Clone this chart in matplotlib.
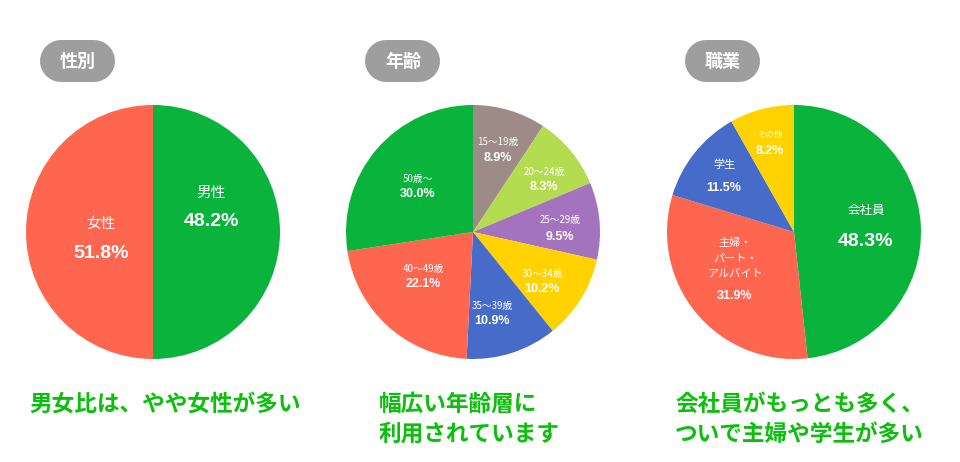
import matplotlib
matplotlib.use('Agg')
import matplotlib.pyplot as plt

HEIGHT = 462
JP = ['Noto Sans CJK JP', 'DejaVu Sans']
NUM = ['Liberation Sans', 'DejaVu Sans']

# data: printed percentages, and the slice sizes as they are actually drawn
gender_labels = ['男性', '女性']
gender_values = [48.2, 51.8]
gender_drawn = [50.0, 50.0]
age_labels = ['15～19歳', '20～24歳', '25～29歳', '30～34歳', '35～39歳', '40～49歳', '50歳～']
age_values = [8.9, 8.3, 9.5, 10.2, 10.9, 22.1, 30.0]
age_drawn = [9.3, 9.4, 9.8, 10.7, 11.6, 21.8, 27.4]
job_labels = ['会社員', '主婦・\nパート・\nアルバイト', '学生', 'その他']
job_values = [48.3, 31.9, 11.5, 8.2]
job_drawn = [48.3, 31.4, 12.1, 8.2]

titles = ['性別', '年齢', '職業']
comments = [['男女比は、やや女性が多い'],
            ['幅広い年齢層に', '利用されています'],
            ['会社員がもっとも多く、', 'ついで主婦や学生が多い']]

# colours
GREEN = '#0ab43c'
TOMATO = '#ff6650'
BLUE = '#476bc9'
YELLOW = '#ffd200'
PURPLE = '#a473be'
LIME = '#b3dc50'
TAUPE = '#9d8b87'
gender_colors = [GREEN, TOMATO]
age_colors = [TAUPE, LIME, PURPLE, YELLOW, BLUE, TOMATO, GREEN]
job_colors = [GREEN, TOMATO, BLUE, YELLOW]

# layout in pixels, y from the top: (x, name y, percent y, name size, percent size)
gender_pos = [(211, 193, 222, 10.5, 14), (101, 224, 253, 10.5, 14)]
age_pos = [(498, 142, 158, 7, 9), (544, 172, 187, 7, 9), (560, 220, 237, 7, 9),
           (542, 274, 289, 7, 9), (492, 306, 321, 7, 9), (423, 269, 284, 7, 9),
           (418, 179, 194, 7, 9)]
job_pos = [(866, 210, 241, 9, 14), (735, 258, 296, 8, 9),
           (724, 165, 188, 8, 9), (770, 134, 151, 6, 9)]

pies = [(153, gender_drawn, gender_values, gender_labels, gender_colors, gender_pos),
        (473, age_drawn, age_values, age_labels, age_colors, age_pos),
        (794, job_drawn, job_values, job_labels, job_colors, job_pos)]
pill_left = [40, 365, 685]
comment_left = [29, 379, 675]


def y_(py):
    return HEIGHT - py


fig = plt.figure(figsize=(9.6, 4.62), dpi=100)
ax = fig.add_axes([0, 0, 1, 1])

for cx, drawn, values, labels, colors, pos in pies:
    ax.pie(drawn, colors=colors, startangle=90, counterclock=False,
           center=(cx, y_(232)), radius=127)
    for value, label, (x, ly, py, ls, ps) in zip(values, labels, pos):
        ax.text(x, y_(ly), label, color='white', fontsize=ls, family=JP,
                ha='center', va='center', linespacing=1.65)
        ax.text(x, y_(py), '{:.1f}%'.format(value), color='white', fontsize=ps, family=NUM,
                fontweight='bold', ha='center', va='center')

ax.set_xlim(0, 960)
ax.set_ylim(0, HEIGHT)
ax.set_aspect('equal')
ax.axis('off')

for left, title in zip(pill_left, titles):
    # stadium shaped title badge, 42 px high
    ax.plot([left + 21, left + 54], [y_(61), y_(61)], color='#9e9e9e', lw=42 * 0.72,
            solid_capstyle='round')
    ax.text(left + 38, y_(61), title, color='white', fontsize=13, family=JP,
            fontweight='bold', ha='center', va='center')

for left, lines in zip(comment_left, comments):
    for i, line in enumerate(lines):
        ax.text(left, y_(404 + i * 30), line, color='#0cbf0c', fontsize=16.3, family=JP,
                fontweight='bold', ha='left', va='center')

fig.savefig('out.png', dpi=100, facecolor='white')
